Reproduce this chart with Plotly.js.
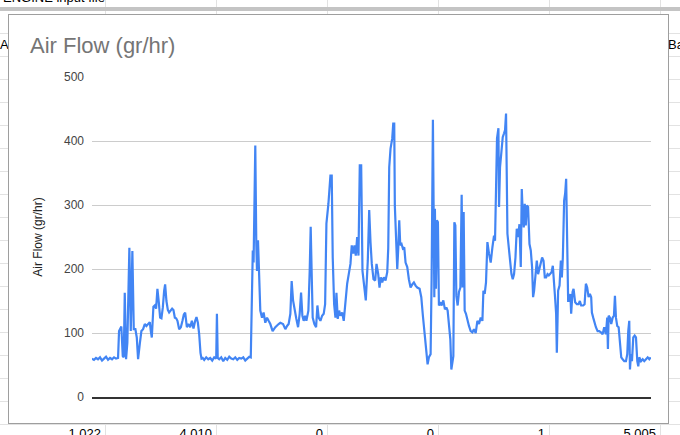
<!DOCTYPE html>
<html>
<head>
<meta charset="utf-8">
<script src="https://cdn.plot.ly/plotly-3.0.1.min.js"></script>
<style>
  html, body { margin:0; padding:0; width:680px; height:435px; overflow:hidden; background:#fff; font-family:"Liberation Sans", Arial, sans-serif; }
  #sheet { position:absolute; left:0; top:0; width:680px; height:435px; }
  .hl { position:absolute; left:0; width:680px; height:1px; background:#e2e2e2; }
  .vl { position:absolute; top:0; width:1px; height:435px; background:#e2e2e2; }
  .cell { position:absolute; font-size:13px; line-height:13px; color:#000; white-space:nowrap; }
  #frozen { position:absolute; left:0; top:7px; width:680px; height:4px; background:#c4c4c4; }
  #frame { position:absolute; left:8px; top:14px; width:661px; height:410px; border:1px solid #9e9e9e; box-sizing:border-box; background:#fff; }
  #chart { position:absolute; left:0; top:0; width:659px; height:408px; }
</style>
</head>
<body>
<div id="sheet"></div>
<div id="frozen"></div>
<div id="frame"><div id="chart"></div></div>
<script>
// ---- data ----
const chartTitle = "Air Flow (gr/hr)";
const yAxisTitle = "Air Flow (gr/hr)";
const yTickValues = [0, 100, 200, 300, 400, 500];
const yTickLabels = ["0", "100", "200", "300", "400", "500"];
const sampleNo = [
92,94,96,98,100,102,104,106,108,110,112,114,116,118,
119,120.3,121.3,122.7,123.7,124.7,126,127.3,129.3,130.7,132.3,133.7,135.3,136.7,138,139.7,141.3,143,144.7,146.3,148,149.7,150.7,151.7,153.3,154.7,156,157.3,158.7,160,161.3,162.7,164,165,166.3,167.7,169,170.7,172,173.3,174.7,176,177.3,179,180.7,182.3,183.7,185,
186.7,188.3,190,191.7,193.3,195,196.3,197.7,199,200.3,201.3,202.5,204,206,208,210,212,214,216,216.7,217.5,219,221,223,225,227,229,231,233,235,237,239,241,243,245,247,249,250.5,
251.5,252.5,253.3,255,256,256.7,257.7,258.7,260,261.7,263.3,265,266.7,268.3,270,272.3,275,278.3,280,282.7,285,286.7,288.3,
290,291.3,292.7,294.3,296,297.7,299.3,300.7,302,303.3,304.7,306,308,309.3,310.3,311.3,312.3,314,315.7,317,318.3,320,321.7,323.3,324.7,326,328,330,331.3,332.3,333.7,335,336,337.3,338.7,340,341.7,343.3,345,346.7,348.3,350,351.3,352.7,354,355.3,356.7,358,359.3,360.7,362,363.3,365.3,367.3,368.7,370,371.3,373,374.7,376,377.7,379,
380.3,381.7,383.3,385,386.7,387.7,388.7,390,391.7,392.7,393.7,394.3,395.7,396.7,397.7,398.7,399.7,401,402.3,403.7,405,406.7,408.3,410,411.7,413.3,415,416.7,419,420.7,422.3,424,425.7,427,428.3,430,431,431.7,432.3,433,433.7,434.3,435.3,436.3,437.3,438.3,439.7,441,442.7,444.3,445.7,447,448.3,449.7,450.7,451.7,452.7,453.7,454.7,455.7,457,458.3,459.7,461,462,463,464,465.3,466.7,468.3,470,471.7,473.3,475,
476.7,478.3,480,481.7,482.7,484,485.3,486.7,488.3,490,491.7,493.3,494.3,495.3,496.3,497.7,498.3,499.3,500.7,502,503.3,504.3,505.3,506,506.7,508,509.3,510.7,512,513.3,514.7,516,517.3,518.7,520,521,522,523,524,525,526,527.3,528.7,530,531.3,532.3,533.3,534.7,536,537.3,538.7,540,541.3,542.7,544,545.3,546.7,548,549.3,550.7,552,552.7,554,555.3,556,556.7,557.3,558.7,560,561,562,563.3,564.3,565.3,566.3,567.3,568.7,
569.5,570.3,571,571.7,572.7,574.3,576,577.7,579,580.3,582.3,583.7,585,586.3,587.7,589,590.3,591,592.3,593.7,595,596.7,598.3,600,601.7,603.3,605,606.3,607,607.7,609,610.3,611.7,613,614,615,616.3,617.7,619,620.3,621.7,623.3,625,626.3,627.3,628.3,629,630,631,632.3,633.7,635,636.3,637.3,638.3,640,641.7,643.3,645,646.7,648.3,649.7
];
const airFlow = [
60,58,61,59,62,57,60,63,58,61,59,62,60,61,
103,109,110,64,62,163,59,85,233,103,228,106,106,93,59,83,103,106,114,111,115,117,103,93,141,143,138,169,148,124,123,140,166,176,150,136,132,135,138,136,124,123,119,106,109,119,129,132,
109,114,109,119,107,119,125,116,98,69,60,61,58,62,59,61,57,62,60,130,61,59,62,56,61,58,63,60,59,62,58,61,60,62,57,60,63,62,
130,229,210,393,239,197,245,197,135,124,132,116,124,119,114,103,109,114,116,114,106,111,114,
130,181,151,135,122,109,130,163,127,119,127,119,135,197,266,192,124,114,109,143,124,119,127,130,145,271,302,346,346,218,145,124,163,122,135,127,132,119,151,177,192,208,237,224,237,221,250,221,362,362,197,182,151,213,292,242,208,184,182,208,192,171,
187,179,187,182,195,232,359,388,404,427,427,299,232,200,232,276,237,239,232,234,210,203,184,171,176,179,174,171,169,156,127,101,64,51,62,67,184,352,433,299,156,294,169,276,273,143,148,143,151,137,140,135,116,90,43,59,64,273,268,158,143,164,171,316,171,289,135,130,119,111,103,101,106,100,
119,114,124,119,166,161,179,242,224,210,234,252,244,359,404,420,297,359,383,406,412,417,443,375,255,234,213,192,184,192,218,263,250,270,203,325,286,265,302,268,299,297,239,229,203,156,166,192,213,192,203,210,218,213,187,187,192,190,192,195,205,182,161,130,69,119,166,174,213,187,218,307,318,341,255,150,150,
161,130,161,164,169,148,145,145,150,143,143,145,177,171,156,161,156,132,124,114,109,103,103,101,98,109,98,124,75,127,124,114,124,127,158,124,111,109,88,62,59,56,56,67,103,119,43,67,56,93,96,93,56,48,62,56,59,56,59,62,59,62
];
// spreadsheet cells visible around the chart
const bottomCells = ["1,022", "4,010", "0", "0", "1", "5,005"];

// ---- spreadsheet backdrop (decoration) ----
const sheet = document.getElementById('sheet');
for (let y = 33; y < 435; y += 23) { const d = document.createElement('div'); d.className = 'hl'; d.style.top = y + 'px'; sheet.appendChild(d); }
const colEdges = [105, 216, 327, 438, 549, 660];
colEdges.forEach(x => { const d = document.createElement('div'); d.className = 'vl'; d.style.left = x + 'px'; sheet.appendChild(d); });
function cell(text, left, top, right) {
  const d = document.createElement('div'); d.className = 'cell'; d.textContent = text;
  if (right !== undefined) { d.style.right = (680 - right) + 'px'; } else { d.style.left = left + 'px'; }
  d.style.top = top + 'px'; sheet.appendChild(d);
}
cell("ENGINE input file", 3, -9);
cell("A", 0, 38);
cell("Ba", 668, 38);
bottomCells.forEach((t, i) => cell(t, 0, 427, colEdges[i] - 4));

// ---- chart ----
const trace = {
  x: sampleNo, y: airFlow, type: 'scatter', mode: 'lines',
  line: { color: '#4285f4', width: 2.2 }, hoverinfo: 'skip'
};
const layout = {
  width: 659, height: 408,
  margin: { l: 83, r: 17, t: 62, b: 26 },
  paper_bgcolor: '#ffffff', plot_bgcolor: '#ffffff',
  showlegend: false,
  font: { family: '"Liberation Sans", Arial, sans-serif', size: 12, color: '#444' },
  title: {
    text: chartTitle, x: 21 / 659, xref: 'container', xanchor: 'left',
    y: 1 - 30 / 408, yref: 'container', yanchor: 'middle',
    font: { family: '"Liberation Sans", Arial, sans-serif', size: 22, color: '#757575' }
  },
  xaxis: {
    range: [92, 650], showgrid: false, zeroline: false, showticklabels: false, ticks: '',
    showline: true, linecolor: '#333333', linewidth: 2, fixedrange: true
  },
  yaxis: {
    range: [0, 500], tickvals: yTickValues, ticktext: yTickLabels,
    showgrid: true, gridcolor: '#cccccc', gridwidth: 1, zeroline: false,
    ticks: '', ticklabelstandoff: 7, automargin: false,
    tickfont: { size: 12, color: '#444444' },
    title: { text: yAxisTitle, standoff: 18, font: { size: 12, color: '#222222' } },
    fixedrange: true
  }
};
Plotly.newPlot('chart', [trace], layout, { displayModeBar: false, staticPlot: true });
</script>
</body>
</html>
